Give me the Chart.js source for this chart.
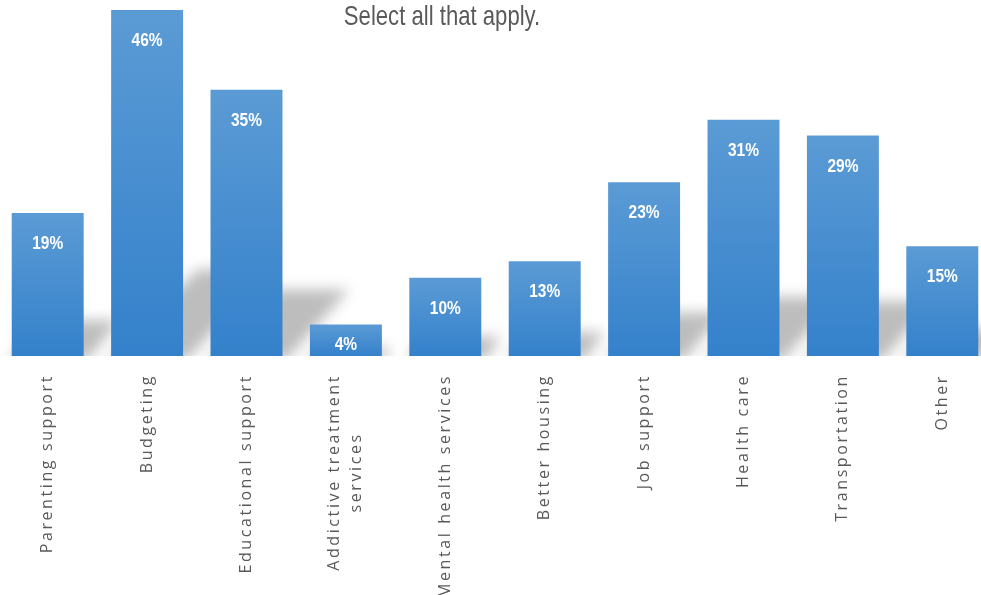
<!DOCTYPE html>
<html>
<head>
<meta charset="utf-8">
<script src="https://cdn.jsdelivr.net/npm/chart.js@4.4.0/dist/chart.umd.min.js"></script>
<style>
  html, body { margin: 0; padding: 0; background: #fff; overflow: hidden; }
  #wrap { position: absolute; left: -2px; top: 0; width: 994px; height: 595px; }
</style>
</head>
<body>
<div id="wrap"><canvas id="myChart"></canvas></div>
<script>
const titleText = 'Select all that apply.';
const categories = [
    'Parenting support',
    'Budgeting',
    'Educational support',
    ['Addictive treatment', 'services'],
    'Mental health services',
    'Better housing',
    'Job support',
    'Health care',
    'Transportation',
    'Other'
];
const percents = [19, 46, 35.4, 4.2, 10.4, 12.6, 23.1, 31.4, 29.3, 14.6];
const yMax = 46;

// narrow text: no condensed font installed, so squeeze horizontally
function narrowText(ctx, text, x, y, sx) {
    ctx.save();
    ctx.translate(x, y);
    ctx.scale(sx, 1);
    ctx.fillText(text, 0, 0);
    ctx.restore();
}

// fake "perspective" shadow behind each bar
const shadowPlugin = {
    id: 'barShadow',
    beforeDatasetsDraw(chart) {
        const ctx = chart.ctx;
        const area = chart.chartArea;
        const meta = chart.getDatasetMeta(0);
        ctx.save();
        ctx.beginPath();
        ctx.rect(area.left - 20, 0, area.right - area.left + 40, area.bottom);
        ctx.clip();
        ctx.filter = 'blur(7px)';
        ctx.fillStyle = 'rgba(0,0,0,0.26)';
        meta.data.forEach(bar => {
            const h = bar.base - bar.y;
            const sh = h * 0.25;
            const dx = sh;
            const x0 = bar.x - bar.width / 2;
            const x1 = bar.x + bar.width / 2;
            ctx.beginPath();
            ctx.moveTo(x0 - 4, bar.base + 4);
            ctx.lineTo(x1 + 4, bar.base + 4);
            ctx.lineTo(x1 + dx, bar.base - sh);
            ctx.lineTo(x0 + dx, bar.base - sh);
            ctx.closePath();
            ctx.fill();
        });
        ctx.restore();
    }
};

// value labels, rotated category labels and the title
const textPlugin = {
    id: 'texts',
    afterDatasetsDraw(chart) {
        const ctx = chart.ctx;
        const meta = chart.getDatasetMeta(0);
        const xScale = chart.scales.x;

        ctx.save();
        ctx.fillStyle = '#ffffff';
        ctx.font = 'bold 18px "Liberation Sans", sans-serif';
        ctx.textAlign = 'center';
        ctx.textBaseline = 'middle';
        meta.data.forEach((bar, i) => {
            const y = Math.min(bar.y + 31, bar.base - 11);
            narrowText(ctx, Math.round(percents[i]) + '%', bar.x, y, 0.86);
        });
        ctx.restore();

        ctx.save();
        ctx.fillStyle = '#595959';
        ctx.font = '16px "Open Sans", sans-serif';
        ctx.letterSpacing = '2.6px';
        ctx.textAlign = 'center';
        ctx.textBaseline = 'middle';
        const top = chart.chartArea.bottom + 18;
        categories.forEach((cat, i) => {
            const lines = Array.isArray(cat) ? cat : [cat];
            const w = Math.max(...lines.map(l => ctx.measureText(l).width));
            const x = xScale.getPixelForValue(i);
            ctx.save();
            ctx.translate(x, top + w / 2);
            ctx.rotate(-Math.PI / 2);
            lines.forEach((l, j) => {
                ctx.fillText(l, 0, (j - (lines.length - 1) / 2) * 22);
            });
            ctx.restore();
        });
        ctx.restore();

        ctx.save();
        ctx.fillStyle = '#595959';
        ctx.font = '28px "Liberation Sans", sans-serif';
        ctx.textAlign = 'center';
        ctx.textBaseline = 'alphabetic';
        narrowText(ctx, titleText, 444, 25, 0.79);
        ctx.restore();
    }
};

const ctx = document.getElementById('myChart').getContext('2d');
const myChart = new Chart(ctx, {
    type: 'bar',
    data: {
        labels: categories,
        datasets: [{
            label: 'Percent',
            data: percents,
            backgroundColor: function (c) {
                const chart = c.chart;
                if (!chart.chartArea || c.raw === undefined) return '#4a8fd2';
                const y = chart.scales.y;
                const g = chart.ctx.createLinearGradient(0, y.getPixelForValue(c.raw), 0, y.getPixelForValue(0));
                g.addColorStop(0, '#5b9bd5');
                g.addColorStop(1, '#3481cb');
                return g;
            },
            borderWidth: 0,
            barPercentage: 0.724,
            categoryPercentage: 1
        }]
    },
    options: {
        responsive: true,
        maintainAspectRatio: false,
        animation: false,
        layout: { padding: { top: 10, bottom: 239, left: 0, right: 0 } },
        plugins: {
            legend: { display: false },
            tooltip: { enabled: false }
        },
        scales: {
            x: { display: false },
            y: { display: false, min: 0, max: yMax }
        }
    },
    plugins: [shadowPlugin, textPlugin]
});
</script>
</body>
</html>
